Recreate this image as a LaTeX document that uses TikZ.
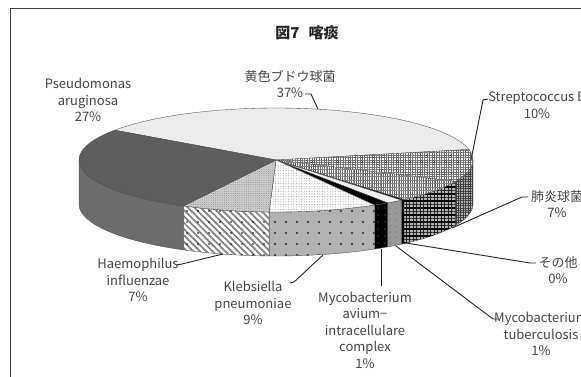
\documentclass[tikz,border=0pt]{standalone}
\usepackage{fontspec}
\setmainfont{Noto Sans CJK JP}
\usetikzlibrary{patterns.meta}
\definecolor{pseudoTopC}{RGB}{94,94,94}
\definecolor{pseudoSideC}{RGB}{108,108,108}
\definecolor{yellowTopC}{RGB}{236,236,236}
\newcommand\pcx{276}
\newcommand\pcy{160}
\newcommand\pra{197}
\newcommand\prb{52}
\newcommand\pdh{44}
\newcommand\pieTop[3]{\path[#3] (\pcx,\pcy) -- plot[domain=#1:#2,samples=50] ({\pcx+\pra*cos(\x)},{\pcy-\prb*sin(\x)}) -- cycle;}
\newcommand\pieSide[3]{\path[#3] plot[domain=#1:#2,samples=50] ({\pcx+\pra*cos(\x)},{\pcy-\prb*sin(\x)}) -- plot[domain=#2:#1,samples=50] ({\pcx+\pra*cos(\x)},{\pcy+\pdh-\prb*sin(\x)}) -- cycle;}
\begin{document}
\begin{tikzpicture}[x=1pt,y=-1pt,
  lbl/.style={align=center, font=\fontsize{13}{16.5}\selectfont, text=black!72, inner sep=0pt},
  leader/.style={draw=black!85, line width=0.9pt},
  edge/.style={draw=black!70, line width=0.35pt},
  yellowTop/.style={edge, fill=yellowTopC},
  strepTop/.style={edge, preaction={fill=white}, pattern={Hatch[distance=2.4pt,angle=0,line width=0.9pt]}, pattern color=black!55},
  strepSide/.style={edge, preaction={fill=black!30}, pattern={Hatch[distance=2.4pt,angle=0,line width=0.9pt]}, pattern color=black!75},
  pneuTop/.style={edge, preaction={fill=white}, pattern={Lines[angle=90,distance=1.8pt,line width=0.6pt]}, pattern color=black!60,
     postaction={pattern={Lines[angle=0,distance=3.5pt,line width=0.5pt]}, pattern color=black!50}},
  pneuSide/.style={edge, preaction={fill=black!30}, pattern={Hatch[distance=3.5pt,angle=0,line width=0.9pt]}, pattern color=black!85,
     postaction={pattern={Lines[angle=0,distance=7pt,line width=1.2pt]}, pattern color=black}},
  otherTop/.style={edge, fill=black},
  otherSide/.style={edge, fill=black},
  mtbTop/.style={edge, fill=black!6},
  mtbSide/.style={edge, preaction={fill=black!40}, pattern={Dots[radius=0.6pt,distance=6pt]}, pattern color=black!60},
  macTop/.style={edge, fill=black},
  macSide/.style={edge, preaction={fill=black}, pattern={Dots[radius=0.6pt,distance=7pt]}, pattern color=black!55},
  klebTop/.style={edge, preaction={fill=white}, pattern={Dots[radius=0.45pt,distance=2.6pt]}, pattern color=black!45},
  klebSide/.style={edge, preaction={fill=black!30}, pattern={Dots[radius=1.2pt,distance=11pt]}, pattern color=black!85},
  haemTop/.style={edge, preaction={fill=black!20}, pattern={Dots[radius=0.45pt,distance=2.2pt]}, pattern color=black!50},
  haemSide/.style={edge, preaction={fill=white}, pattern={Lines[angle=-45,distance=4.5pt,line width=1.7pt]}, pattern color=black!50,
     postaction={pattern={Dots[radius=0.8pt,distance=11pt]}, pattern color=black}},
  pseudoTop/.style={edge, fill=pseudoTopC},
  pseudoSide/.style={edge, fill=pseudoSideC}]
\useasboundingbox (0,0) rectangle (581,376);
\clip (0,0) rectangle (581,376);
\fill[white] (0,0) rectangle (581,376);
\draw[black!75, line width=0.8pt] (10,8) rectangle (640,430);

% side walls
\pieSide{0}{-24.3}{strepSide}
\pieSide{-24.3}{-49.5}{pneuSide}
\pieSide{-49.5}{-50.5}{otherSide}
\pieSide{-50.5}{-55.5}{mtbSide}
\pieSide{-55.5}{-60}{macSide}
\pieSide{-60}{-92}{klebSide}
\pieSide{-92}{-118}{haemSide}
\pieSide{-118}{-180}{pseudoSide}

% top faces
\pieTop{145}{11.7}{yellowTop}
\pieTop{11.7}{-24.3}{strepTop}
\pieTop{-24.3}{-49.5}{pneuTop}
\pieTop{-49.5}{-50.5}{otherTop}
\pieTop{-50.5}{-55.5}{mtbTop}
\pieTop{-55.5}{-60}{macTop}
\pieTop{-60}{-92}{klebTop}
\pieTop{-92}{-118}{haemTop}
\pieTop{-118}{-215}{pseudoTop}

% labels
\node[lbl, font=\fontsize{15}{18}\selectfont\bfseries, text=black!85] (title) at (307,33) {図7\hspace{0.6em}喀痰};
\node[lbl] (lY) at (290,84) {黄色ブドウ球菌\\37\%};
\node[lbl] (lP) at (88,100) {Pseudomonas\\aruginosa\\27\%};
\node[lbl] (lS) at (537,105) {Streptococcus B\\10\%};
\node[lbl] (lPn) at (557,204) {肺炎球菌\\7\%};
\node[lbl] (lO) at (558,270) {その他\\0\%};
\node[lbl] (lMt) at (541,334) {Mycobacterium\\tuberculosis\\1\%};
\node[lbl] (lMac) at (365,330) {Mycobacterium\\avium−\\intracellulare\\complex\\1\%};
\node[lbl] (lK) at (253,303) {Klebsiella\\pneumoniae\\9\%};
\node[lbl] (lH) at (138,280) {Haemophilus\\influenzae\\7\%};

% leader anchors
\coordinate (sY) at (305,94);   \coordinate (aY) at (318,109);
\coordinate (sS) at (488,99);   \coordinate (aS) at (471,160);
\coordinate (sPn) at (528,197); \coordinate (aPn) at (452,228);
\coordinate (sO) at (536,263);  \coordinate (aO) at (406,243);
\coordinate (sMt) at (498,319); \coordinate (aMt) at (396,246);
\coordinate (sMac) at (381,286); \coordinate (aMac) at (381,249);
\coordinate (sK) at (290,283);  \coordinate (aK) at (323,255);
\coordinate (sH) at (176,265);  \coordinate (aH) at (223,254);

\draw[leader] (sY) -- ++(6,0) -- (aY);
\draw[leader] (sS) -- ++(-5,1) -- (aS);
\draw[leader] (sPn) -- ++(-6,0) -- (aPn);
\draw[leader] (sO) -- ++(-6,0) -- (aO);
\draw[leader] (sMt) -- ++(-5,0) -- (aMt);
\draw[leader] (sMac) -- (aMac);
\draw[leader] (sK) -- ++(4,-1) -- (aK);
\draw[leader] (sH) -- ++(6,-1) -- (aH);
\end{tikzpicture}
\end{document}
